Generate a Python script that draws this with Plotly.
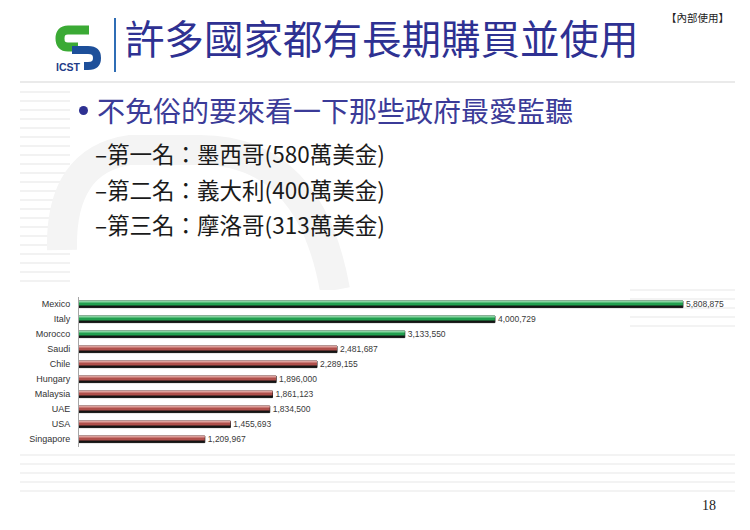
import plotly.graph_objects as go

# ── Data ─────────────────────────────────────────────────────────────────────
countries = ["Mexico", "Italy", "Morocco", "Saudi", "Chile", "Hungary",
             "Malaysia", "UAE", "USA", "Singapore"]
spend_usd = [5808875, 4000729, 3133550, 2481687, 2289155, 1896000,
             1861123, 1834500, 1455693, 1209967]
top_n = 3

title_text = "許多國家都有長期購買並使用"
bullet_text = "不免俗的要來看一下那些政府最愛監聽"
sub_items = ["第一名：墨西哥(580萬美金)",
             "第二名：義大利(400萬美金)",
             "第三名：摩洛哥(313萬美金)"]
page_no = "18"

W, H = 750, 530
PAGE_MARGIN = 8  # the html body margin shifts the figure right/down
CJK = "Noto Sans CJK TC, Noto Sans CJK SC, sans-serif"


def px(x):
    return (x - PAGE_MARGIN) / W


def py(y):
    return 1 - (y - PAGE_MARGIN) / H


main_colors = ["#22A04F" if i < top_n else "#B0504C" for i in range(len(countries))]
light_colors = ["#8AD3A2" if i < top_n else "#DDA09C" for i in range(len(countries))]

fig = go.Figure()

# black "shadow" under each bar, carries the value labels
fig.add_trace(go.Bar(
    y=countries, x=spend_usd, orientation="h",
    width=0.44, offset=-0.2,
    marker=dict(color="#141414", line=dict(color="#141414", width=1)),
    texttemplate="%{x:,}", textposition="outside", constraintext="none",
    textfont=dict(family="Liberation Sans, Arial", size=8.5, color="#3A3A3A"),
    cliponaxis=False, hoverinfo="skip", showlegend=False,
))
# coloured face
fig.add_trace(go.Bar(
    y=countries, x=spend_usd, orientation="h",
    width=0.3, offset=-0.2,
    marker=dict(color=main_colors, line=dict(width=0)),
    hoverinfo="skip", showlegend=False,
))
# light highlight along the top edge
fig.add_trace(go.Bar(
    y=countries, x=spend_usd, orientation="h",
    width=0.08, offset=-0.2,
    marker=dict(color=light_colors, line=dict(width=0)),
    hoverinfo="skip", showlegend=False,
))

# ── Slide decoration ─────────────────────────────────────────────────────────
P = dict(xref="paper", yref="paper")
shapes = []
# faint stripes of the slide background
for y in range(92, 290, 9):
    shapes.append(dict(type="line", **P, layer="below",
                       x0=px(20), x1=px(70), y0=py(y), y1=py(y),
                       line=dict(color="#F2F2F2", width=2)))
for y in range(455, 500, 9):
    shapes.append(dict(type="line", **P, layer="below",
                       x0=px(20), x1=px(735), y0=py(y), y1=py(y),
                       line=dict(color="#F3F3F3", width=2)))
for y in range(290, 330, 9):
    shapes.append(dict(type="line", **P, layer="below",
                       x0=px(630), x1=px(735), y0=py(y), y1=py(y),
                       line=dict(color="#F3F3F3", width=2)))
# big watermark "S"
shapes.append(dict(type="path", **P, layer="below",
                   path=(f"M {px(335)} {py(290)} Q {px(310)} {py(150)} {px(200)} {py(150)} "
                         f"L {px(130)} {py(150)} Q {px(60)} {py(160)} {px(62)} {py(250)}"),
                   line=dict(color="#F4F4F4", width=30)))
# white chart panel
shapes.append(dict(type="rect", **P, layer="below",
                   x0=px(22), x1=px(630), y0=py(450), y1=py(290),
                   fillcolor="white", line=dict(width=0)))
# header separator
shapes.append(dict(type="line", **P,
                   x0=px(20), x1=px(735), y0=py(82), y1=py(82),
                   line=dict(color="#E3E3E3", width=1.5)))
# vertical rule beside the logo
shapes.append(dict(type="line", **P,
                   x0=px(115), x1=px(115), y0=py(18), y1=py(72),
                   line=dict(color="#2F6DB5", width=2)))
# logo: green upper hook, blue lower hook
shapes.append(dict(type="path", **P,
                   path=(f"M {px(89)} {py(30)} L {px(68)} {py(30)} "
                         f"Q {px(60)} {py(30)} {px(60)} {py(38.5)} "
                         f"Q {px(60)} {py(47)} {px(68)} {py(47)} L {px(78)} {py(47)}"),
                   line=dict(color="#3BAA35", width=9)))
shapes.append(dict(type="path", **P,
                   path=(f"M {px(72)} {py(50)} L {px(88)} {py(50)} "
                         f"Q {px(97)} {py(50)} {px(97)} {py(58)} "
                         f"Q {px(97)} {py(66)} {px(88)} {py(66)} L {px(84)} {py(66)}"),
                   line=dict(color="#1D4F9A", width=8)))
# bullet dot
shapes.append(dict(type="circle", **P,
                   x0=px(79), x1=px(88), y0=py(106), y1=py(115),
                   fillcolor="#2E3192", line=dict(width=0)))

annotations = [
    dict(text=title_text, x=px(123), y=py(37), xanchor="left", yanchor="middle",
         font=dict(family=CJK, size=39.5, color="#2E3192"), showarrow=False, **P),
    dict(text="【內部使用】", x=px(731), y=py(18), xanchor="right", yanchor="middle",
         font=dict(family=CJK, size=10.5, color="#222222"), showarrow=False, **P),
    dict(text="<b>ICST</b>", x=px(69), y=py(67), xanchor="center", yanchor="middle",
         font=dict(family="Liberation Sans, Arial", size=10.5, color="#1F3C88"),
         bgcolor="white", borderpad=0, showarrow=False, **P),
    dict(text=bullet_text, x=px(95), y=py(110), xanchor="left", yanchor="middle",
         font=dict(family=CJK, size=28, color="#3B3B98"), showarrow=False, **P),
    dict(text=page_no, x=px(718), y=py(505), xanchor="right", yanchor="middle",
         font=dict(family="Liberation Serif, serif", size=14, color="#222222"),
         showarrow=False, **P),
]
for i, item in enumerate(sub_items):
    annotations.append(dict(
        text="–" + item, x=px(93), y=py(153 + 35.5 * i), xanchor="left", yanchor="middle",
        font=dict(family=CJK, size=22.5, color="#1A1A1A"), showarrow=False, **P))

fig.update_layout(
    width=W, height=H,
    margin=dict(l=0, r=0, t=0, b=0),
    paper_bgcolor="white", plot_bgcolor="rgba(0,0,0,0)",
    barmode="overlay",
    showlegend=False,
    xaxis=dict(domain=[px(79), px(735)], range=[0, 6.31e6], visible=False,
               fixedrange=True),
    yaxis=dict(domain=[py(446.5), py(296.5)], categoryorder="array",
               categoryarray=countries, range=[len(countries) - 0.5, -0.5],
               showline=True, linecolor="#A6A6A6", linewidth=1,
               showgrid=False, ticks="", ticklabelstandoff=6,
               tickfont=dict(family="Liberation Sans, Arial", size=9, color="#333333"),
               fixedrange=True),
    shapes=shapes,
    annotations=annotations,
)

fig.write_html("out.html")
